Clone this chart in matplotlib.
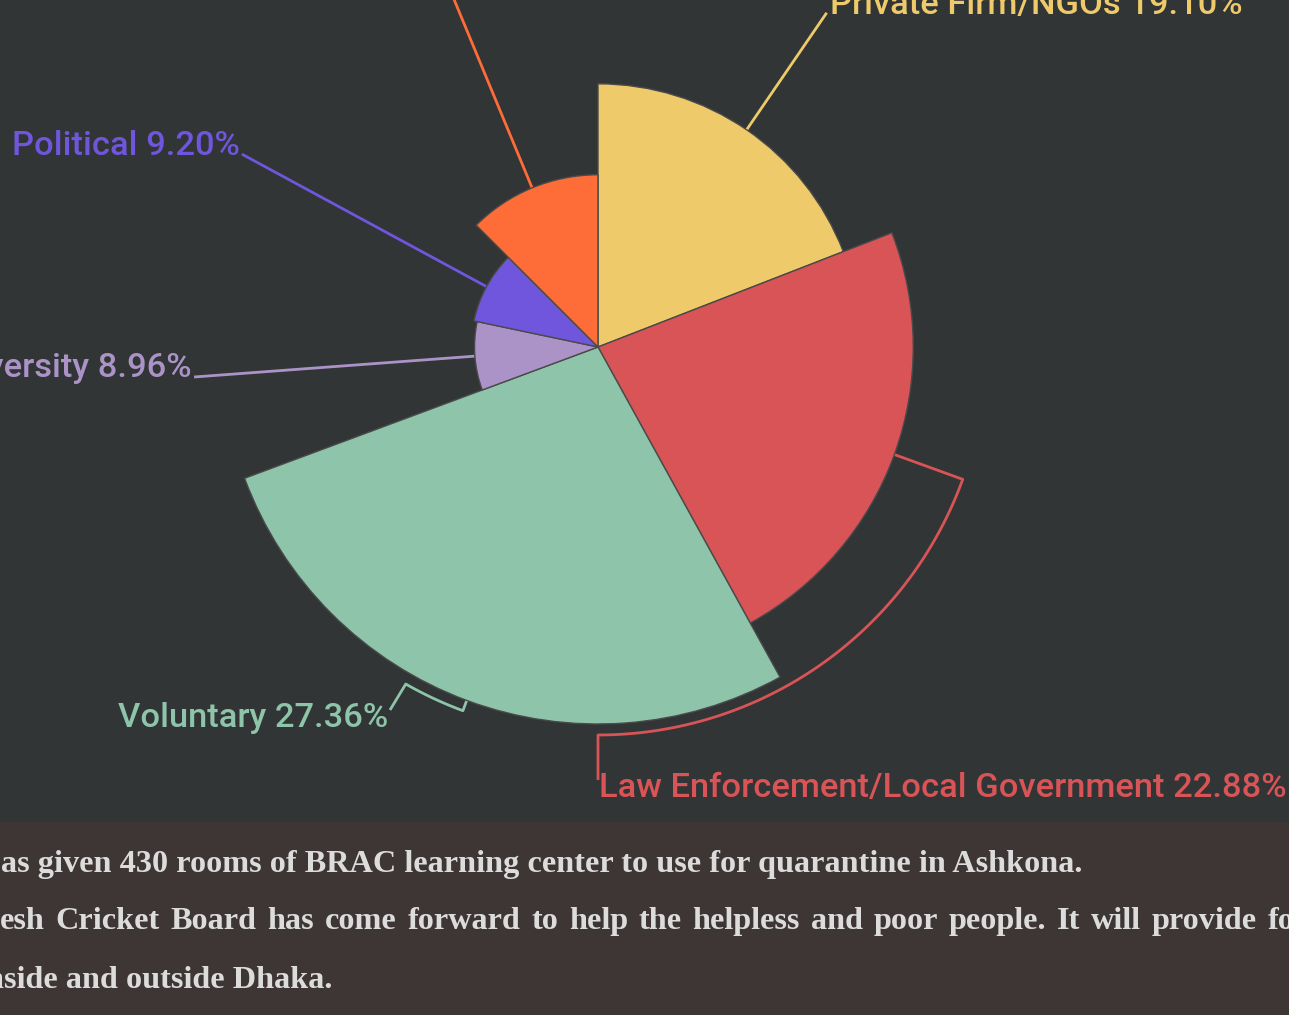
import numpy as np
import matplotlib.pyplot as plt
from matplotlib.patches import Wedge, Rectangle

# slices, clockwise from 12 o'clock
categories = ["Private Firm/NGOs", "Law Enforcement/Local Government", "Voluntary",
              "University", "Political", "Others"]
values = [19.10, 22.88, 27.36, 8.96, 9.20, 12.50]
colors = ["#eeca6a", "#d95456", "#8ec4a9", "#ab93c8", "#6f56dd", "#fe6c37"]

notes = [
    "as given 430 rooms of BRAC learning center to use for quarantine in Ashkona.",
    "esh Cricket Board has come forward to help the helpless and poor people. It will provide fo",
    "nside and outside Dhaka.",
]

W, H = 1289, 1015
bg = "#313536"
band = "#3e3535"

fig = plt.figure(figsize=(W / 100, H / 100), dpi=100, facecolor=bg)
ax = fig.add_axes([0, 0, 1, 1])
ax.set_xlim(0, W)
ax.set_ylim(H, 0)
ax.set_aspect("equal")
ax.axis("off")

cx, cy = 598, 347
r_max = 377
R_lab = 405


def pt(a, r):
    # a: degrees clockwise from top
    t = np.radians(a)
    return cx + r * np.sin(t), cy - r * np.cos(t)


vals = np.array(values)
ends = np.cumsum(vals) / vals.sum() * 360
starts = np.concatenate([[0], ends[:-1]])
radii = vals / vals.max() * r_max
mids = (starts + ends) / 2

for a1, a2, r, c in zip(starts, ends, radii, colors):
    ax.add_patch(Wedge((cx, cy), r, a1 - 90, a2 - 90, facecolor=c,
                       edgecolor="#4a4a4a", lw=1.0, zorder=2))

# label layout: None = straight radial line, else (arc end angle, line end point)
bend = [None, (180.0, (598, 780)), (209.7, (390, 710)), None, None, None]
text_at = [(830, 14, "left"), (599, 797, "left"), (388, 727, "right"),
           (192, 377, "right"), (240, 155, "right"), None]

lab_font = dict(family=["Roboto", "DejaVu Sans"], fontsize=24.8, fontweight="medium")

for i, (cat, v, c) in enumerate(zip(categories, values, colors)):
    a, r = mids[i], radii[i]
    if bend[i] is None:
        p0, p1 = pt(a, r), pt(a, R_lab)
        xs, ys = [p0[0], p1[0]], [p0[1], p1[1]]
    else:
        a_end, (ex, ey) = bend[i]
        r_arc = 388
        arc_a = np.linspace(a, a_end, 60)
        pts = [pt(a, r)] + [pt(t, r_arc) for t in arc_a] + [(ex, ey)]
        xs, ys = zip(*pts)
    ax.plot(xs, ys, color=c, lw=2, solid_capstyle="butt", zorder=1)
    if text_at[i] is None:
        continue
    tx, ty, ha = text_at[i]
    ax.text(tx, ty, f"{cat} {v:.2f}%", color=c, ha=ha, va="baseline", **lab_font)

# bottom notes band
ax.add_patch(Rectangle((0, 822), W, H - 822, facecolor=band, edgecolor="none", zorder=0))

note_font = dict(family=["Liberation Serif", "DejaVu Serif"], fontsize=23.2,
                 fontweight="bold", color="#dcdcdc")
base_y = [872, 929, 988]

ax.text(1, base_y[0], notes[0], ha="left", va="baseline", **note_font)
ax.text(-14, base_y[2], notes[2], ha="left", va="baseline", **note_font)

# justified middle line
fig.canvas.draw()
rend = fig.canvas.get_renderer()
words = notes[1].split(" ")
widths = []
for w in words:
    t = ax.text(0, 0, w, **note_font)
    widths.append(t.get_window_extent(rend).width)
    t.remove()
last_x = 1268
gap = (last_x - sum(widths[:-1])) / (len(words) - 1)
x = 0
for w, wd in zip(words, widths):
    ax.text(x, base_y[1], w, ha="left", va="baseline", **note_font)
    x += wd + gap

fig.savefig("out.png", dpi=100, facecolor=bg)
